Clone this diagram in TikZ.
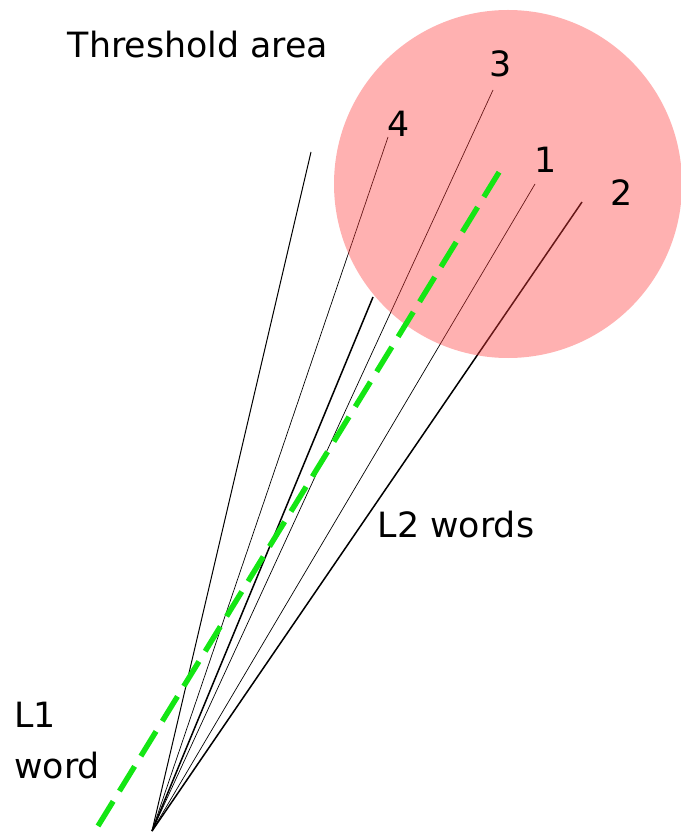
\documentclass[tikz,border=0pt]{standalone}
\usepackage{fontspec}
\setmainfont{DejaVu Sans}

\definecolor{areapink}{RGB}{255,60,60}
\definecolor{dashgreen}{RGB}{20,230,20}

\begin{document}
\begin{tikzpicture}[x=0.5pt, y=-0.5pt, font=\fontsize{17.4}{24.5}\selectfont]
  % Threshold area vs. L1 word

  \useasboundingbox (0,0) rectangle (680,833);

  % L1 word (common origin of all lines)
  \coordinate (o) at (152,831);

  % Ends of the L2 word lines
  \coordinate (wa) at (311,152);
  \coordinate (wb) at (373,297);
  \coordinate (w4) at (388,137);
  \coordinate (w3) at (493,90);
  \coordinate (w1) at (535,184);
  \coordinate (w2) at (582,202);

  % L2 words
  \draw[line width=0.5pt] (o) -- (wa);
  \draw[line width=0.75pt] (o) -- (wb);
  \draw[line width=0.35pt] (o) -- (w4);
  \draw[line width=0.35pt] (o) -- (w3);
  \draw[line width=0.35pt] (o) -- (w1);
  \draw[line width=0.75pt] (o) -- (w2);

  % Threshold area
  \fill[areapink, opacity=0.4] (508,184) circle (174);

  % Mean direction of the L1 word
  \coordinate (gs) at (98,826);
  \coordinate (ge) at (501,169);
  \draw[dashgreen, line width=2.7pt, dash pattern=on 14.5pt off 6pt] (gs) -- (ge);

  % Labels
  \node[anchor=base] (area) at (198,58) {Threshold area};
  \node[anchor=base] (n3) at (501,77) {3};
  \node[anchor=base] (n4) at (399,137) {4};
  \node[anchor=base] (n1) at (546,173) {1};
  \node[anchor=base] (n2) at (622,206) {2};
  \node[anchor=base] (l2) at (456,537) {L2 words};
  \node[anchor=base west, align=left, inner sep=0pt] (l1) at (14,778) {L1\\[1pt]word};
\end{tikzpicture}
\end{document}
